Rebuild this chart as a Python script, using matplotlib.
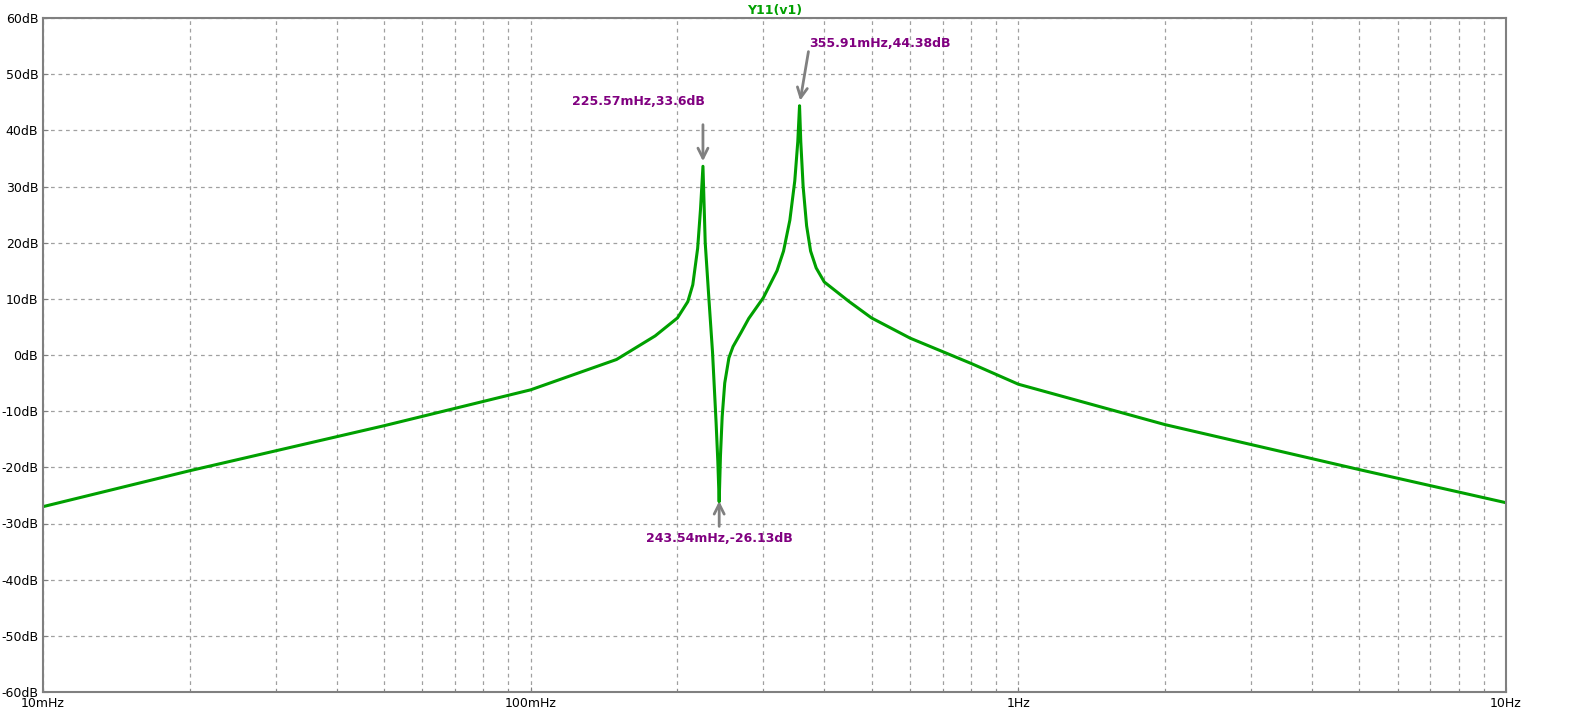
import numpy as np
import matplotlib
matplotlib.use('Agg')
import matplotlib.pyplot as plt
from matplotlib.ticker import FixedLocator, NullFormatter

# curve (Hz, dB)
freq = [0.01, 0.02, 0.05, 0.1, 0.15, 0.18, 0.2, 0.21, 0.215, 0.22, 0.223, 0.22557,
        0.228, 0.232, 0.236, 0.24, 0.242, 0.24354, 0.245, 0.247, 0.25, 0.255, 0.26,
        0.27, 0.28, 0.30, 0.32, 0.33, 0.34, 0.348, 0.353, 0.35591, 0.358, 0.362,
        0.368, 0.375, 0.385, 0.40, 0.45, 0.5, 0.6, 0.8, 1.0, 2.0, 5.0, 10.0]
mag_db = [-27.0, -20.6, -12.6, -6.2, -0.8, 3.4, 6.6, 9.5, 12.5, 19.0, 26.0, 33.6,
          20.0, 10.0, 0.5, -12.0, -19.0, -26.13, -18.0, -11.0, -5.0, -0.5, 1.5,
          4.0, 6.5, 10.2, 15.0, 18.5, 24.0, 31.0, 38.0, 44.38, 38.0, 30.0,
          23.0, 18.5, 15.5, 13.0, 9.5, 6.6, 3.0, -1.5, -5.2, -12.4, -20.4, -26.3]

markers = [(0.22557, 33.6, "225.57mHz,33.6dB"),
           (0.24354, -26.13, "243.54mHz,-26.13dB"),
           (0.35591, 44.38, "355.91mHz,44.38dB")]

fig = plt.figure(figsize=(15.77, 7.22), dpi=100)
ax = fig.add_axes([43/1577, 30/722, 1463/1577, 674/722])

ax.semilogx(freq, mag_db, color='#00a000', lw=2.2)
ax.set_xlim(0.01, 10)
ax.set_ylim(-60, 60)

ax.set_yticks(np.arange(-60, 61, 10))
ax.set_yticklabels([f"{v}dB" for v in range(-60, 61, 10)])
ax.set_xticks([0.01, 0.1, 1, 10])
ax.set_xticklabels(["10mHz", "100mHz", "1Hz", "10Hz"])
minors = [m * 10.0**d for d in (-2, -1, 0) for m in range(2, 10)]
ax.xaxis.set_minor_locator(FixedLocator(minors))
ax.xaxis.set_minor_formatter(NullFormatter())

ax.grid(True, which='both', color='#a0a0a0', linestyle=(0, (3, 3)), lw=0.9)
ax.tick_params(which='both', direction='in', labelsize=9, color='#808080')
for s in ax.spines.values():
    s.set_color('#808080')
    s.set_linewidth(1.5)

ax.set_title("Y11(v1)", color='#00a000', fontsize=9, fontweight='bold', pad=3)

purple = '#800080'
arrow = dict(arrowstyle='->', color='#808080', lw=2, mutation_scale=18)
# marker 1: vertical arrow from above, text above-left
ax.annotate("", xy=(0.22557, 34.0), xytext=(0.22557, 41.5), arrowprops=arrow)
ax.text(0.2275, 45.2, markers[0][2], ha='right', va='center', color=purple,
        fontsize=9, fontweight='bold')
# marker 2: vertical arrow from below
ax.annotate(markers[1][2], xy=(markers[1][0], -25.5), xytext=(0.24354, -31.5),
            ha='center', va='top', color=purple, fontsize=9, fontweight='bold',
            arrowprops=arrow)
# marker 3: diagonal arrow from upper right
ax.annotate("", xy=(0.3562, 44.8), xytext=(0.372, 54.5), arrowprops=arrow)
ax.text(0.372, 55.5, markers[2][2], ha='left', va='center', color=purple,
        fontsize=9, fontweight='bold')

fig.savefig("out.png", dpi=100)
